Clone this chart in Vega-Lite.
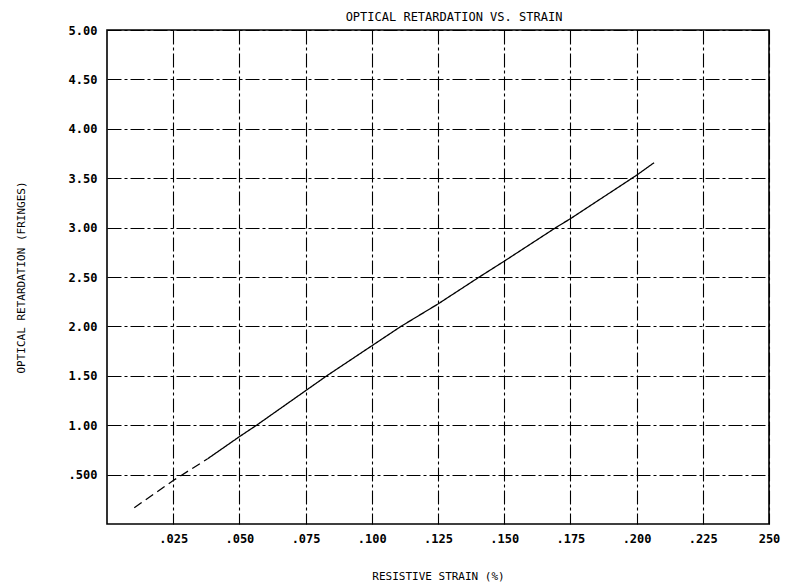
{
  "$schema": "https://vega.github.io/schema/vega-lite/v6.json",
  "width": 662,
  "height": 494,
  "autosize": {"type": "none"},
  "padding": {"left": 107, "top": 30, "right": 22, "bottom": 64},
  "background": "white",
  "title": {
    "text": "OPTICAL RETARDATION VS. STRAIN",
    "anchor": "middle",
    "dx": 16,
    "offset": 0,
    "font": "DejaVu Sans Mono",
    "fontSize": 12,
    "fontWeight": "normal",
    "color": "black"
  },
  "config": {
    "view": {"stroke": "black", "strokeWidth": 1.6},
    "axis": {
      "domain": false,
      "grid": true,
      "gridColor": "black",
      "gridOpacity": 1,
      "gridWidth": 1.1,
      "gridDash": [14, 3, 3, 3],
      "ticks": false,
      "labelFont": "DejaVu Sans Mono",
      "labelFontSize": 12,
      "labelFontWeight": "bold",
      "labelColor": "black",
      "titleFont": "DejaVu Sans Mono",
      "titleFontSize": 11,
      "titleFontWeight": "normal",
      "titleColor": "black"
    }
  },
  "data": {
    "values": [
      {"strain": 0.0103, "fringes": 0.165, "part": "dashed"},
      {"strain": 0.025, "fringes": 0.44, "part": "dashed"},
      {"strain": 0.038, "fringes": 0.66, "part": "dashed"},
      {"strain": 0.038, "fringes": 0.66, "part": "solid"},
      {"strain": 0.05, "fringes": 0.884, "part": "solid"},
      {"strain": 0.0565, "fringes": 1.0, "part": "solid"},
      {"strain": 0.083, "fringes": 1.5, "part": "solid"},
      {"strain": 0.111, "fringes": 2.0, "part": "solid"},
      {"strain": 0.125, "fringes": 2.227, "part": "solid"},
      {"strain": 0.1406, "fringes": 2.5, "part": "solid"},
      {"strain": 0.15, "fringes": 2.66, "part": "solid"},
      {"strain": 0.1695, "fringes": 3.0, "part": "solid"},
      {"strain": 0.175, "fringes": 3.09, "part": "solid"},
      {"strain": 0.2, "fringes": 3.53, "part": "solid"},
      {"strain": 0.2066, "fringes": 3.657, "part": "solid"}
    ]
  },
  "mark": {"type": "line", "color": "black", "strokeWidth": 1.3},
  "encoding": {
    "x": {
      "field": "strain",
      "type": "quantitative",
      "scale": {"domain": [0, 0.25], "nice": false, "zero": false},
      "axis": {
        "title": "RESISTIVE STRAIN (%)",
        "values": [0.025, 0.05, 0.075, 0.1, 0.125, 0.15, 0.175, 0.2, 0.225, 0.25],
        "labelExpr": "datum.value >= 0.249 ? '250' : replace(format(datum.value, '.3f'), '0.', '.')",
        "labelPadding": 9,
        "titlePadding": 26,
        "labelFlush": false
      }
    },
    "y": {
      "field": "fringes",
      "type": "quantitative",
      "scale": {"domain": [0, 5], "nice": false},
      "axis": {
        "title": "OPTICAL RETARDATION (FRINGES)",
        "values": [0.5, 1, 1.5, 2, 2.5, 3, 3.5, 4, 4.5, 5],
        "labelExpr": "datum.value == 0.5 ? '.500' : format(datum.value, '.2f')",
        "labelPadding": 10,
        "titlePadding": 42,
        "labelFlush": false
      }
    },
    "strokeDash": {
      "field": "part",
      "type": "nominal",
      "scale": {"domain": ["dashed", "solid"], "range": [[9, 5], [1, 0]]},
      "legend": null
    }
  }
}
